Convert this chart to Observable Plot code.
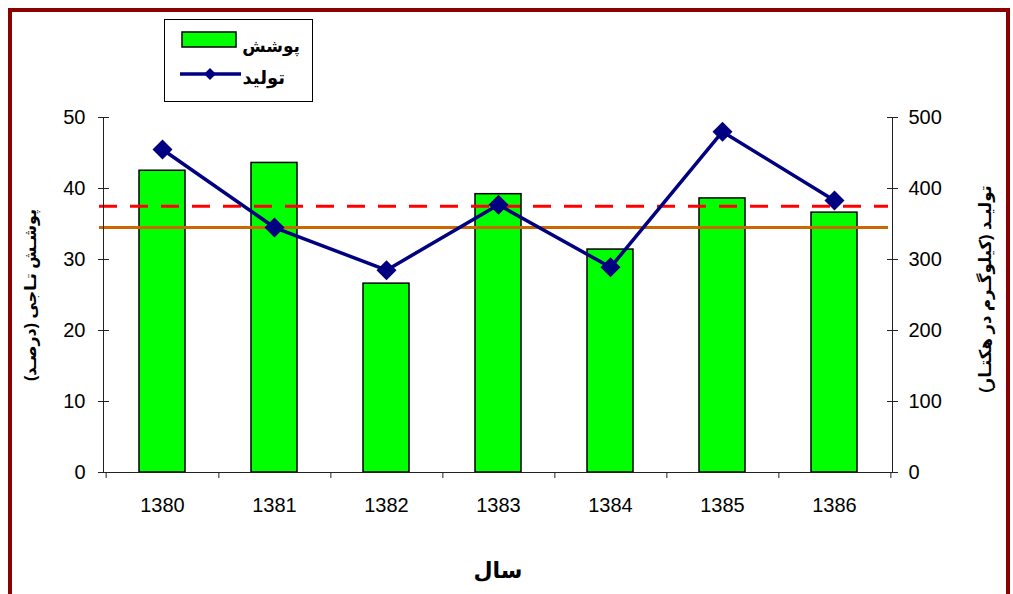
<!DOCTYPE html>
<html><head><meta charset="utf-8">
<script src="https://cdn.jsdelivr.net/npm/d3@7"></script>
<script src="https://cdn.jsdelivr.net/npm/@observablehq/plot@0.6"></script>
<style>
html,body{margin:0;padding:0;background:#fff;}
#wrap{position:relative;width:1013px;height:594px;overflow:hidden;font-family:"Liberation Sans",Arial,"DejaVu Sans",sans-serif;background:#fff;}
#border{position:absolute;left:8px;top:8px;width:994px;height:640px;border:4px solid #8b0000;}
#chart{position:absolute;left:0;top:0;}
#legend{position:absolute;left:164px;top:19px;}
</style></head><body>
<div id="wrap"><div id="border"></div><div id="chart"></div><div id="legend"></div></div>
<script>
// ---- data ----
const years = ["1380", "1381", "1382", "1383", "1384", "1385", "1386"];
const cover = [42.5, 43.6, 26.6, 39.2, 31.4, 38.6, 36.6];        // left axis (%)
const production = [455, 345, 285, 377, 289, 480, 383];          // right axis (kg/ha)
const leftTicks = [0, 10, 20, 30, 40, 50];
const rightTicks = [0, 100, 200, 300, 400, 500];
const redRef = 37.5;     // dashed red reference (left-axis units)
const orangeRef = 34.5;  // solid orange reference (left-axis units)
const coverName = "پوشش";
const prodName = "تولید";
const leftTitle = "پوشـش تـاجی (درصـد)";
const rightTitle = "تولیـد (کیلوگـرم در هکتـار)";
const xTitle = "سال";

// ---- layout ----
const W = 1013, H = 594, mL = 103, mR = 121, mT = 117, mB = 122;
const step = (W - mL - mR) / years.length;
const ratio = 10; // right axis = left axis * 10
const fontFam = '"Liberation Sans", Arial, "DejaVu Sans", sans-serif';

const data = years.map((year, i) => ({year, cover: cover[i], production: production[i]}));

const chart = Plot.plot({
  width: W, height: H,
  marginLeft: mL, marginRight: mR, marginTop: mT, marginBottom: mB,
  style: {fontFamily: fontFam, fontSize: "20px", color: "#000", background: "transparent", overflow: "visible"},
  x: {domain: years, padding: 0, axis: null, label: null},
  y: {domain: [0, 50], axis: null, label: null},
  marks: [
    Plot.barY(data, {x: "year", y: "cover", fill: "#00ff00", stroke: "#000", strokeWidth: 1.5, insetLeft: 33, insetRight: 33}),
    Plot.ruleY([redRef], {stroke: "#ff0000", strokeWidth: 3, strokeDasharray: "18,13", insetLeft: -4, insetRight: 4}),
    Plot.ruleY([orangeRef], {stroke: "#cc6600", strokeWidth: 3, insetLeft: -4, insetRight: 4}),
    Plot.line(data, {x: "year", y: d => d.production / ratio, stroke: "#000080", strokeWidth: 3.5}),
    Plot.dot(data, {x: "year", y: d => d.production / ratio, symbol: "diamond2", r: 9, fill: "#000080", stroke: "none"}),
    Plot.frame({anchor: "left", stroke: "#222"}),
    Plot.frame({anchor: "right", stroke: "#222"}),
    Plot.frame({anchor: "bottom", stroke: "#222"}),
    // left axis
    Plot.axisY(leftTicks, {anchor: "left", tickSize: 5, tickPadding: 13, fontSize: 20, label: null, stroke: "#222"}),
    Plot.axisY(leftTicks, {anchor: "left", tickSize: 6, fill: "none", dx: 6, label: null, stroke: "#222"}),
    // right axis
    Plot.axisY(rightTicks.map(v => v / ratio), {anchor: "right", tickSize: 5, tickPadding: 11, fontSize: 20, label: null, stroke: "#222", tickFormat: d => String(Math.round(d * ratio))}),
    Plot.axisY(rightTicks.map(v => v / ratio), {anchor: "right", tickSize: 6, fill: "none", dx: -6, label: null, stroke: "#222"}),
    // x axis labels and boundary ticks
    Plot.axisX({anchor: "bottom", tickSize: 0, tickPadding: 25, fontSize: 20, label: null}),
    Plot.axisX({anchor: "bottom", tickSize: 6, fill: "none", dx: step / 2, label: null, stroke: "#222"}),
    Plot.axisX([years[0]], {anchor: "bottom", tickSize: 6, fill: "none", dx: -step / 2, label: null, stroke: "#222"}),
    // titles
    Plot.text([leftTitle], {frameAnchor: "left", textAnchor: "middle", dx: -73, rotate: -90, fontWeight: "bold", fontSize: 16}),
    Plot.text([rightTitle], {frameAnchor: "right", textAnchor: "middle", dx: 93, dy: -6, rotate: -90, fontWeight: "bold", fontSize: 16.5}),
    Plot.text([xTitle], {frameAnchor: "bottom", textAnchor: "middle", dy: 105, fontWeight: "bold", fontSize: 22})
  ]
});
document.getElementById("chart").appendChild(chart);

// ---- legend ----
const lg = `<svg width="150" height="84" xmlns="http://www.w3.org/2000/svg" style="font-family:${fontFam.replace(/"/g, "'")}">
<rect x="0.5" y="0.5" width="148" height="82" fill="#fff" stroke="#000"/>
<rect x="18" y="13" width="54" height="15" fill="#00ff00" stroke="#000" stroke-width="1.5"/>
<text x="136" y="33" text-anchor="end" font-weight="bold" font-size="17">${coverName}</text>
<line x1="16" x2="77" y1="55" y2="55" stroke="#000080" stroke-width="3.5"/>
<path d="M46,49 L52,55 L46,61 L40,55Z" fill="#000080"/>
<text x="121" y="65" text-anchor="end" font-weight="bold" font-size="18">${prodName}</text>
</svg>`;
document.getElementById("legend").innerHTML = lg;
</script>
</body></html>
